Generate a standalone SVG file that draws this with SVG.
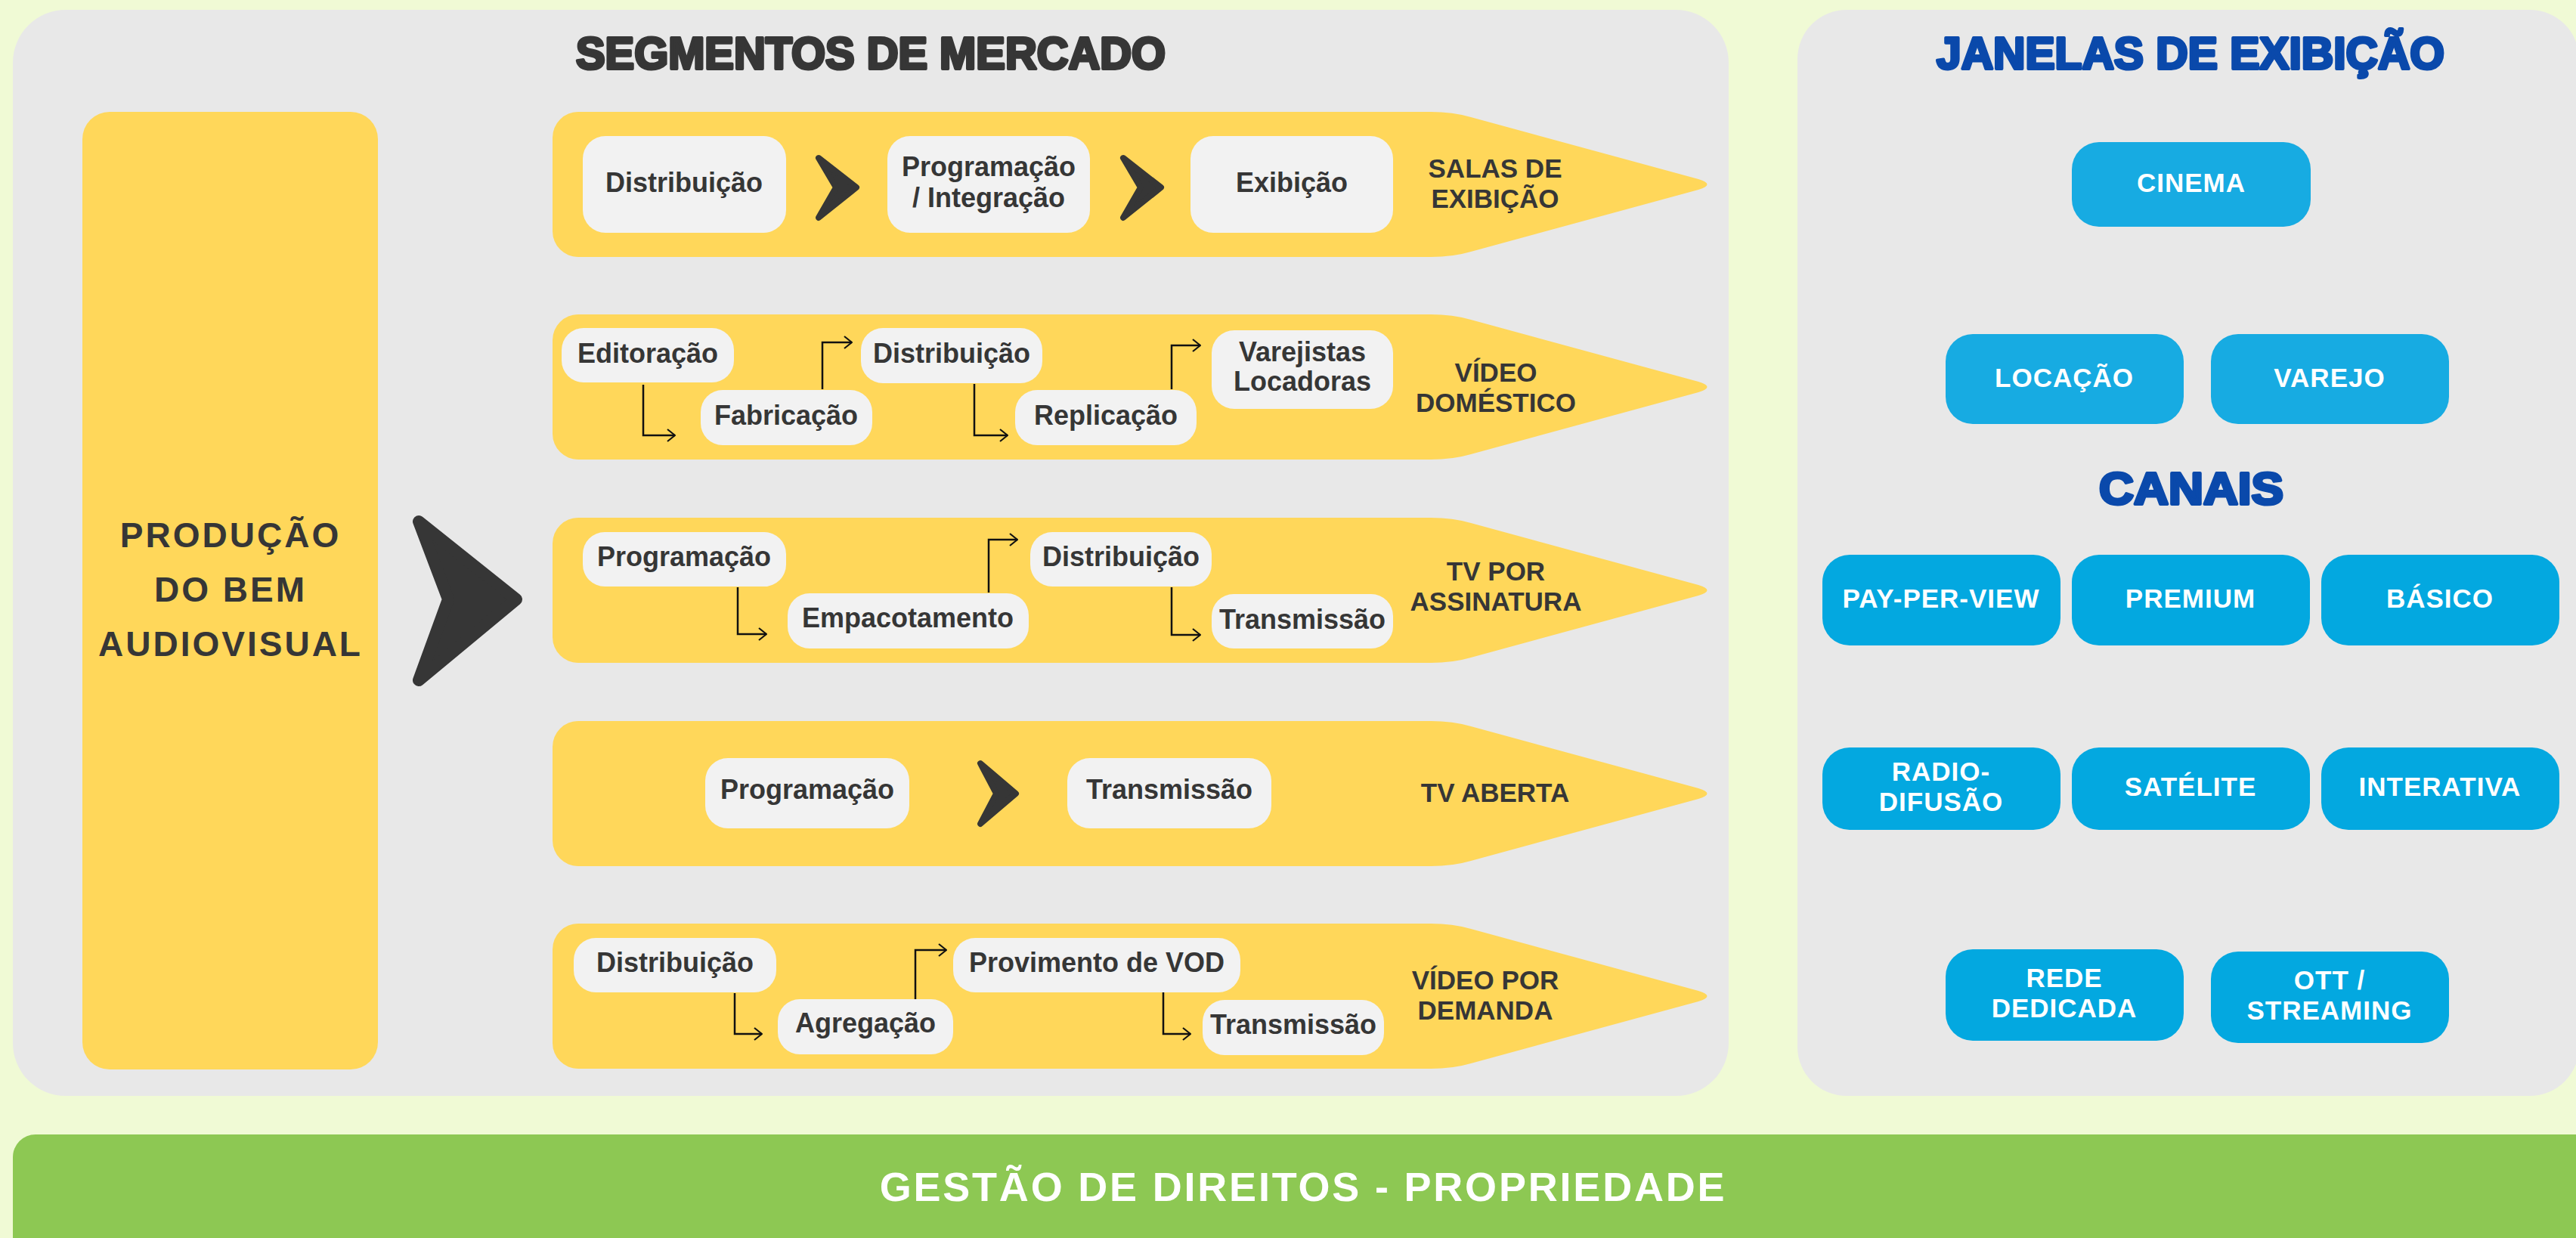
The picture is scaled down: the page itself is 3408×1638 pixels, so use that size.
<svg xmlns="http://www.w3.org/2000/svg" width="3408" height="1638" viewBox="0 0 3408 1638">
<style>
text{font-family:"Liberation Sans",Arial,sans-serif;font-weight:700;text-anchor:middle}
.panel{fill:#e8e8e8}
.seg{fill:#ffd75a}
.box{fill:#f2f2f2}
.lbl{font-size:36px;fill:#363636}
.seglbl{font-size:35px;fill:#363636}
.blue1{fill:#17abe2}
.blue2{fill:#03a8e0}
.wl{font-size:35px;fill:#ffffff;letter-spacing:1px}
.title{font-size:60px;stroke-width:4px;stroke-linejoin:round}
.chev{fill:#363636;stroke:#363636;stroke-linejoin:round}
.conn{fill:none;stroke:#111111;stroke-width:2.5px;marker-end:url(#arr)}
</style>
<defs>
<marker id="arr" viewBox="0 0 12 18" refX="11" refY="9" markerWidth="12" markerHeight="18" markerUnits="userSpaceOnUse" orient="auto">
<path d="M1,1 L11,9 L1,17" fill="none" stroke="#111111" stroke-width="2.2"/>
</marker>
</defs>
<rect width="3408" height="1638" fill="#f0fad5"/>
<g id="panel-segmentos">
<rect class="panel" x="17" y="13" width="2270" height="1437" rx="70"/>
<text class="title" x="1152" y="91" fill="#363636" stroke="#363636" textLength="780" lengthAdjust="spacingAndGlyphs">SEGMENTOS DE MERCADO</text>
</g>
<g id="panel-janelas">
<rect class="panel" x="2378" y="13" width="1034" height="1437" rx="65"/>
<text class="title" x="2898" y="91" fill="#0a49ab" stroke="#0a49ab" textLength="672" lengthAdjust="spacingAndGlyphs">JANELAS DE EXIBIÇÃO</text>
<text class="title" x="2899" y="667" fill="#0a49ab" stroke="#0a49ab" textLength="244" lengthAdjust="spacingAndGlyphs">CANAIS</text>
</g>
<g id="gestao">
<rect x="17" y="1501" width="3430" height="170" rx="30" fill="#8dc853"/>
<text x="1724" y="1589" font-size="54" fill="#ffffff" letter-spacing="2.8">GESTÃO DE DIREITOS - PROPRIEDADE</text>
</g>
<g id="producao">
<rect class="seg" x="109" y="148" width="391" height="1267" rx="36"/>
<text x="305" y="724" font-size="46" fill="#363636" letter-spacing="3">PRODUÇÃO</text>
<text x="305" y="796" font-size="46" fill="#363636" letter-spacing="3">DO BEM</text>
<text x="305" y="868" font-size="46" fill="#363636" letter-spacing="3">AUDIOVISUAL</text>
</g>
<g id="seg-salas">
<path class="seg" d="M 765,148 H 1893 Q 1922,148 1946,155 L 2247,237 Q 2270,244 2247,251 L 1946,333 Q 1922,340 1893,340 H 765 A 34 34 0 0 1 731,306 V 182 A 34 34 0 0 1 765,148 Z"/>
<text class="seglbl" x="1978" y="235">SALAS DE</text>
<text class="seglbl" x="1978" y="275">EXIBIÇÃO</text>
</g>
<g id="seg-video-domestico">
<path class="seg" d="M 765,416 H 1893 Q 1922,416 1946,423 L 2247,505 Q 2270,512 2247,519 L 1946,601 Q 1922,608 1893,608 H 765 A 34 34 0 0 1 731,574 V 450 A 34 34 0 0 1 765,416 Z"/>
<text class="seglbl" x="1979" y="505">VÍDEO</text>
<text class="seglbl" x="1979" y="545">DOMÉSTICO</text>
</g>
<g id="seg-tv-assinatura">
<path class="seg" d="M 765,685 H 1893 Q 1922,685 1946,692 L 2247,774 Q 2270,781 2247,788 L 1946,870 Q 1922,877 1893,877 H 765 A 34 34 0 0 1 731,843 V 719 A 34 34 0 0 1 765,685 Z"/>
<text class="seglbl" x="1979" y="768">TV POR</text>
<text class="seglbl" x="1979" y="808">ASSINATURA</text>
</g>
<g id="seg-tv-aberta">
<path class="seg" d="M 765,954 H 1893 Q 1922,954 1946,961 L 2247,1043 Q 2270,1050 2247,1057 L 1946,1139 Q 1922,1146 1893,1146 H 765 A 34 34 0 0 1 731,1112 V 988 A 34 34 0 0 1 765,954 Z"/>
<text class="seglbl" x="1978" y="1061">TV ABERTA</text>
</g>
<g id="seg-video-demanda">
<path class="seg" d="M 765,1222 H 1893 Q 1922,1222 1946,1229 L 2247,1311 Q 2270,1318 2247,1325 L 1946,1407 Q 1922,1414 1893,1414 H 765 A 34 34 0 0 1 731,1380 V 1256 A 34 34 0 0 1 765,1222 Z"/>
<text class="seglbl" x="1965" y="1309">VÍDEO POR</text>
<text class="seglbl" x="1965" y="1349">DEMANDA</text>
</g>
<g id="r1-distribuicao"><rect class="box" x="771" y="180" width="269" height="128" rx="30"/><text class="lbl" x="905" y="254">Distribuição</text></g>
<g id="r1-programacao"><rect class="box" x="1174" y="180" width="268" height="128" rx="30"/><text class="lbl" x="1308" y="233">Programação</text><text class="lbl" x="1308" y="274">/ Integração</text></g>
<g id="r1-exibicao"><rect class="box" x="1575" y="180" width="268" height="128" rx="30"/><text class="lbl" x="1709" y="254">Exibição</text></g>
<g id="r2-editoracao"><rect class="box" x="743" y="434" width="228" height="72" rx="29"/><text class="lbl" x="857" y="480">Editoração</text></g>
<g id="r2-fabricacao"><rect class="box" x="927" y="516" width="227" height="73" rx="29"/><text class="lbl" x="1040" y="562">Fabricação</text></g>
<g id="r2-distribuicao"><rect class="box" x="1139" y="434" width="240" height="73" rx="29"/><text class="lbl" x="1259" y="480">Distribuição</text></g>
<g id="r2-replicacao"><rect class="box" x="1343" y="516" width="240" height="73" rx="29"/><text class="lbl" x="1463" y="562">Replicação</text></g>
<g id="r2-varejistas"><rect class="box" x="1603" y="437" width="240" height="104" rx="30"/><text class="lbl" x="1723" y="478">Varejistas</text><text class="lbl" x="1723" y="517">Locadoras</text></g>
<g id="r3-programacao"><rect class="box" x="771" y="704" width="269" height="72" rx="29"/><text class="lbl" x="905" y="749">Programação</text></g>
<g id="r3-empacotamento"><rect class="box" x="1042" y="785" width="319" height="73" rx="29"/><text class="lbl" x="1201" y="830">Empacotamento</text></g>
<g id="r3-distribuicao"><rect class="box" x="1363" y="704" width="240" height="72" rx="29"/><text class="lbl" x="1483" y="749">Distribuição</text></g>
<g id="r3-transmissao"><rect class="box" x="1603" y="786" width="240" height="72" rx="29"/><text class="lbl" x="1723" y="832">Transmissão</text></g>
<g id="r4-programacao"><rect class="box" x="933" y="1003" width="270" height="93" rx="30"/><text class="lbl" x="1068" y="1057">Programação</text></g>
<g id="r4-transmissao"><rect class="box" x="1412" y="1003" width="270" height="93" rx="30"/><text class="lbl" x="1547" y="1057">Transmissão</text></g>
<g id="r5-distribuicao"><rect class="box" x="759" y="1241" width="268" height="72" rx="29"/><text class="lbl" x="893" y="1286">Distribuição</text></g>
<g id="r5-agregacao"><rect class="box" x="1029" y="1322" width="232" height="73" rx="29"/><text class="lbl" x="1145" y="1366">Agregação</text></g>
<g id="r5-provimento"><rect class="box" x="1261" y="1241" width="380" height="72" rx="29"/><text class="lbl" x="1451" y="1286">Provimento de VOD</text></g>
<g id="r5-transmissao"><rect class="box" x="1591" y="1323" width="240" height="73" rx="29"/><text class="lbl" x="1711" y="1368">Transmissão</text></g>
<g id="cinema"><rect class="blue1" x="2741" y="188" width="316" height="112" rx="36"/><text class="wl" x="2899" y="254">CINEMA</text></g>
<g id="locacao"><rect class="blue1" x="2574" y="442" width="315" height="119" rx="36"/><text class="wl" x="2731" y="512">LOCAÇÃO</text></g>
<g id="varejo"><rect class="blue1" x="2925" y="442" width="315" height="119" rx="36"/><text class="wl" x="3082" y="512">VAREJO</text></g>
<g id="pay-per-view"><rect class="blue2" x="2411" y="734" width="315" height="120" rx="36"/><text class="wl" x="2568" y="804">PAY-PER-VIEW</text></g>
<g id="premium"><rect class="blue2" x="2741" y="734" width="315" height="120" rx="36"/><text class="wl" x="2898" y="804">PREMIUM</text></g>
<g id="basico"><rect class="blue2" x="3071" y="734" width="315" height="120" rx="36"/><text class="wl" x="3228" y="804">BÁSICO</text></g>
<g id="radiodifusao"><rect class="blue2" x="2411" y="989" width="315" height="109" rx="36"/><text class="wl" x="2568" y="1033">RADIO-</text><text class="wl" x="2568" y="1073">DIFUSÃO</text></g>
<g id="satelite"><rect class="blue2" x="2741" y="989" width="315" height="109" rx="36"/><text class="wl" x="2898" y="1053">SATÉLITE</text></g>
<g id="interativa"><rect class="blue2" x="3071" y="989" width="315" height="109" rx="36"/><text class="wl" x="3228" y="1053">INTERATIVA</text></g>
<g id="rede-dedicada"><rect class="blue2" x="2574" y="1256" width="315" height="121" rx="36"/><text class="wl" x="2731" y="1306">REDE</text><text class="wl" x="2731" y="1346">DEDICADA</text></g>
<g id="ott-streaming"><rect class="blue2" x="2925" y="1259" width="315" height="121" rx="36"/><text class="wl" x="3082" y="1309">OTT /</text><text class="wl" x="3082" y="1349">STREAMING</text></g>
<g id="connectors">
<polygon class="chev" stroke-width="16" points="554,690 683,793 554,900 593,793"/>
<polygon class="chev" stroke-width="8" points="1083,209 1133,248 1083,288 1106,248"/>
<polygon class="chev" stroke-width="8" points="1486,209 1536,248 1486,288 1509,248"/>
<polygon class="chev" stroke-width="8" points="1297,1010 1344,1050 1297,1090 1318,1050"/>
<path class="conn" d="M 851,509 V 576 H 893"/>
<path class="conn" d="M 1088,515 V 453 H 1127"/>
<path class="conn" d="M 1289,508 V 576 H 1333"/>
<path class="conn" d="M 1550,515 V 457 H 1588"/>
<path class="conn" d="M 976,777 V 839 H 1014"/>
<path class="conn" d="M 1308,784 V 714 H 1346"/>
<path class="conn" d="M 1550,777 V 840 H 1588"/>
<path class="conn" d="M 972,1314 V 1368 H 1008"/>
<path class="conn" d="M 1211,1322 V 1257 H 1252"/>
<path class="conn" d="M 1539,1313 V 1368 H 1575"/>
</g>
</svg>
